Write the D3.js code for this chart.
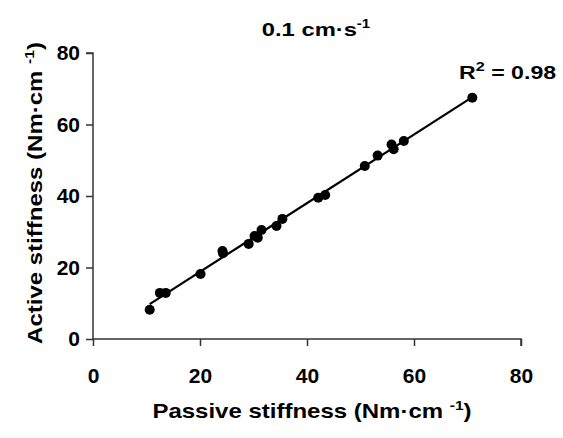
<!DOCTYPE html>
<html>
<head>
<meta charset="utf-8">
<script src="https://cdn.jsdelivr.net/npm/d3@7"></script>
<style>
  body { margin: 0; background: #fff; }
  text { font-family: "Liberation Sans", Arial, sans-serif; font-weight: bold; fill: #000; }
</style>
</head>
<body>
<div id="chart"></div>
<script>
// passive vs active stiffness, one point per subject
var passive = [10.6, 12.5, 13.6, 20.1, 24.2, 24.3, 29.1, 30.2, 30.8, 31.5, 34.3, 35.4,
               42.1, 43.4, 50.8, 53.2, 55.8, 56.2, 58.1, 70.9];
var active  = [8.2, 12.9, 12.9, 18.2, 24.6, 24.0, 26.6, 28.8, 28.3, 30.5, 31.6, 33.6,
               39.5, 40.3, 48.4, 51.3, 54.4, 53.1, 55.4, 67.5];
var xTicks = [0, 20, 40, 60, 80];
var yTicks = [0, 20, 40, 60, 80];
var rSquared = "0.98";

function init() {
    var width = 563, height = 438;
    var margin = { left: 93, right: 42, top: 53, bottom: 99 };

    var svg = d3.select("#chart")
        .append("svg")
        .attr("width", width)
        .attr("height", height);

    var x = d3.scaleLinear()
        .domain([0, 80])
        .range([margin.left, width - margin.right]);

    var y = d3.scaleLinear()
        .domain([0, 80])
        .range([height - margin.bottom, margin.top]);

    // axes
    var xAxis = svg.append("g")
        .attr("transform", `translate(0,${y(0)})`)
        .call(d3.axisBottom(x).tickValues(xTicks).tickSize(7).tickPadding(22));
    var yAxis = svg.append("g")
        .attr("transform", `translate(${x(0)},0)`)
        .call(d3.axisLeft(y).tickValues(yTicks).tickSize(7).tickPadding(6));

    [xAxis, yAxis].forEach(function (a) {
        a.select(".domain").attr("stroke", "#333").attr("stroke-width", 1.5);
        a.selectAll(".tick line").attr("stroke", "#333").attr("stroke-width", 1.5);
        a.selectAll(".tick text")
            .style("font-family", "'Liberation Sans', Arial, sans-serif")
            .style("font-weight", "bold")
            .style("font-size", "21px")
            .attr("fill", "#000");
    });
    yAxis.select(".domain").attr("d", `M-7,${y(80)}H0V${y(0)}`);
    xAxis.select(".domain").attr("d", `M${x(0)},0H${x(80)}V7`);

    // regression line from the data
    var n = passive.length;
    var mx = d3.mean(passive), my = d3.mean(active);
    var sxy = 0, sxx = 0;
    for (var i = 0; i < n; i++) {
        sxy += (passive[i] - mx) * (active[i] - my);
        sxx += (passive[i] - mx) * (passive[i] - mx);
    }
    var slope = sxy / sxx, icept = my - slope * mx;
    var x0 = d3.min(passive), x1 = d3.max(passive);

    svg.append("line")
        .attr("x1", x(x0)).attr("y1", y(icept + slope * x0))
        .attr("x2", x(x1)).attr("y2", y(icept + slope * x1))
        .attr("stroke", "#000")
        .attr("stroke-width", 2.2);

    // points
    svg.selectAll("circle.pt")
        .data(d3.range(n))
        .enter()
        .append("circle")
        .attr("class", "pt")
        .attr("cx", i => x(passive[i]))
        .attr("cy", i => y(active[i]))
        .attr("r", 5)
        .attr("fill", "#000");

    // text in the original is wider than Liberation Sans, so stretch it a bit
    function wideText(cx, cy, size, sx, anchor, rot) {
        return svg.append("text")
            .attr("transform", `translate(${cx},${cy})` + (rot ? ` rotate(${rot})` : "") + ` scale(${sx},1)`)
            .attr("text-anchor", anchor)
            .style("font-size", size + "px");
    }

    // title
    var title = wideText(316, 36, 19, 1.25, "middle");
    title.append("tspan").text("0.1 cm·s");
    title.append("tspan").attr("dy", -8).style("font-size", "12px").text("-1");

    // R squared
    var r2 = wideText(459, 79, 18.5, 1.25, "start");
    r2.append("tspan").text("R");
    r2.append("tspan").attr("dy", -8).style("font-size", "13px").text("2");
    r2.append("tspan").attr("dy", 8).text(" = " + rSquared);

    // axis titles
    var xt = wideText(312, 418, 20, 1.2, "middle");
    xt.append("tspan").text("Passive stiffness (Nm·cm ");
    xt.append("tspan").attr("dy", -8).style("font-size", "13px").text("-1");
    xt.append("tspan").attr("dy", 8).text(")");

    var yt = wideText(42, 193, 20, 1.2, "middle", -90);
    yt.append("tspan").text("Active stiffness (Nm·cm ");
    yt.append("tspan").attr("dy", -8).style("font-size", "13px").text("-1");
    yt.append("tspan").attr("dy", 8).text(")");
}

init();
</script>
</body>
</html>
